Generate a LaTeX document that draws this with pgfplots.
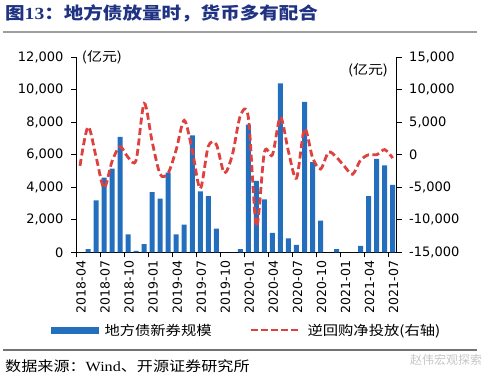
\documentclass[border=0pt]{standalone}
\usepackage{pgfplots}
\pgfplotsset{compat=1.18}
\usepackage{pgfplotstable}
\usepackage{fontspec}
\usepackage{graphicx}
\setmainfont{Liberation Serif}
\newfontfamily\cjk{Noto Sans CJK SC}
\newfontfamily\num{DejaVu Sans}
\definecolor{barblue}{RGB}{36,110,190}
\definecolor{linered}{RGB}{222,66,64}
\definecolor{titleblue}{RGB}{32,50,130}
\newcommand{\hs}[1]{\scalebox{1.15}[1]{#1}}

\pgfplotstableread{
x bond
0 0
1 200
2 3200
3 4600
4 5150
5 7100
6 1100
7 80
8 500
9 3700
10 3300
11 4900
12 1100
13 1700
14 7200
15 3750
16 3450
17 1450
18 0
19 0
20 200
21 7850
22 4400
23 3250
24 1200
25 10400
26 860
27 450
28 9250
29 5550
30 1950
31 0
32 200
33 0
34 0
35 400
36 3450
37 5750
38 5350
39 4150
}\bonddata

\pgfplotstableread{
x repo
0 -1700
1 4300
2 -300
3 -5100
4 -1000
5 1250
6 -400
7 -800
8 7900
9 2000
10 -3000
11 -2800
12 800
13 5300
14 700
15 -5200
16 1300
17 1600
18 -2800
19 0
20 6000
21 5700
22 -11000
23 400
24 0
25 5800
26 500
27 -3600
28 4000
29 -400
30 -2200
31 400
32 -400
33 -1800
34 -3000
35 -800
36 0
37 0
38 800
39 -500
}\repodata

\begin{document}
\begin{tikzpicture}[x=1pt,y=1pt]
\path[use as bounding box] (0,0) rectangle (500,382);
\node[anchor=west, inner sep=0pt, text=titleblue] at (5,369)
  {\hs{\cjk\fontsize{17}{17}\selectfont\bfseries 图{\rmfamily\bfseries 13}：地方债放量时，货币多有配合}};
\draw[gray!75, line width=2.5pt] (3,350) -- (477,350);

\begin{axis}[
  at={(76pt,129.7pt)}, anchor=south west,
  scale only axis, width=320.7pt, height=195pt,
  xmin=-0.5, xmax=39.5, ymin=0, ymax=12000,
  axis lines*=left,
  axis line style={black, line width=0.9pt},
  tick style={black, line width=0.9pt},
  tick align=outside, major tick length=5pt,
  xtick={-0.5,2.5,...,39.5},
  xticklabels={2018-04,2018-07,2018-10,2019-01,2019-04,2019-07,2019-10,2020-01,2020-04,2020-07,2020-10,2021-01,2021-04,2021-07},
  xticklabel style={xshift=5pt, rotate=90, anchor=east, font=\num\fontsize{12.5}{12.5}\selectfont},
  ytick={0,2000,...,12000},
  scaled y ticks=false,
  yticklabel style={font=\num\fontsize{13}{13}\selectfont, xshift=-4pt},
  /pgf/number format/1000 sep={,},
  /pgf/number format/assume math mode=true,
  ybar, bar width=5pt,
  legend columns=2,
  legend style={at={(-0.08,-0.401)}, anchor=west, draw=none, fill=none,
    inner sep=0pt, column sep=4pt,
    /tikz/every even column/.append style={column sep=36pt},
    font=\cjk\fontsize{13.3}{13.3}\selectfont},
]
\addplot[fill=barblue, draw=none,
  legend image code/.code={\fill[barblue] (0pt,-3.5pt) rectangle (48pt,3.5pt);}]
  table[x=x,y=bond]{\bonddata};
\addlegendentry{\hs{地方债新券规模}}
\addlegendimage{legend image code/.code={\draw[linered, line width=2pt, dash pattern=on 7pt off 3pt] (0pt,0pt) -- (50pt,0pt);}}
\addlegendentry{\hs{逆回购净投放(右轴)}}
\end{axis}

\begin{axis}[
  at={(76pt,129.7pt)}, anchor=south west,
  scale only axis, width=320.7pt, height=195pt,
  xmin=-0.5, xmax=39.5, ymin=-15000, ymax=15000,
  axis y line*=right, axis x line=none,
  axis line style={black, line width=0.9pt},
  tick style={black, line width=0.9pt},
  tick align=outside, major tick length=5pt,
  ytick={-15000,-10000,...,15000},
  scaled y ticks=false,
  yticklabel style={font=\num\fontsize{13}{13}\selectfont, xshift=4pt},
  /pgf/number format/1000 sep={,},
  /pgf/number format/assume math mode=true,
]
\addplot[linered, line width=2.8pt, dash pattern=on 7pt off 3.5pt, smooth]
  table[x=x,y=repo]{\repodata};
\end{axis}

\node[inner sep=0pt] at (102,324.5) {\hs{\cjk\fontsize{13}{13}\selectfont (亿元)}};
\node[inner sep=0pt] at (368,311.5) {\hs{\cjk\fontsize{13}{13}\selectfont (亿元)}};

\draw[gray!90!black, line width=1.5pt] (3,32) -- (477,32);
\node[anchor=west, inner sep=0pt] at (5,15.5)
  {\hs{\cjk\fontsize{14}{14}\selectfont 数据来源：{\rmfamily Wind}、开源证券研究所}};
\node[anchor=west, inner sep=0pt, text=gray!45] at (410,22)
  {\cjk\fontsize{12}{12}\selectfont 赵伟宏观探索};
\end{tikzpicture}
\end{document}
